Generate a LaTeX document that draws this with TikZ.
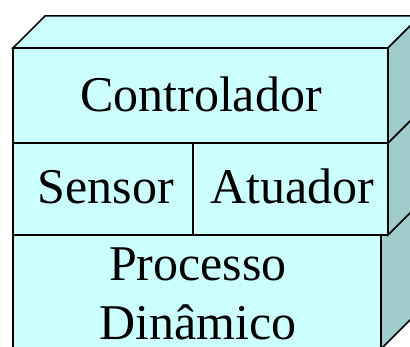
\documentclass[tikz,border=0pt]{standalone}
\usepackage{fontspec}
\setmainfont{Liberation Serif}
\definecolor{faceC}{RGB}{204,255,255}
\definecolor{sideC}{RGB}{160,204,204}
\begin{document}
\begin{tikzpicture}[x=1pt,y=-1pt,
  face/.style={fill=faceC,draw=black,line width=1.5pt},
  side/.style={fill=sideC,draw=black,line width=1.5pt},
  lbl/.style={font=\fontsize{50}{59}\selectfont,inner sep=0pt,anchor=base}]
\useasboundingbox (0,0) rectangle (410,347);
% bottom box
\draw[side] (381,235) -- (413,203) -- (413,317) -- (381,349) -- cycle;
\draw[face] (13,235) rectangle (381,349);
% middle box
\draw[side] (388,143) -- (420,111) -- (420,203) -- (388,235) -- cycle;
\draw[face] (13,143) rectangle (388,235);
\draw[line width=1.5pt] (193,143) -- (193,235);
% top box
\draw[face] (13,48) -- (45,16) -- (420,16) -- (388,48) -- cycle;
\draw[side] (388,48) -- (420,16) -- (420,111) -- (388,143) -- cycle;
\draw[face] (13,48) rectangle (388,143);
% labels
\node[lbl] (ctrl) at (201,112) {Controlador};
\node[lbl] (sens) at (106,204) {Sensor};
\node[lbl] (atu) at (292,204) {Atuador};
\node[lbl] (proc) at (198,281) {Processo};
\node[lbl] (din) at (198,340) {Dinâmico};
\end{tikzpicture}
\end{document}
